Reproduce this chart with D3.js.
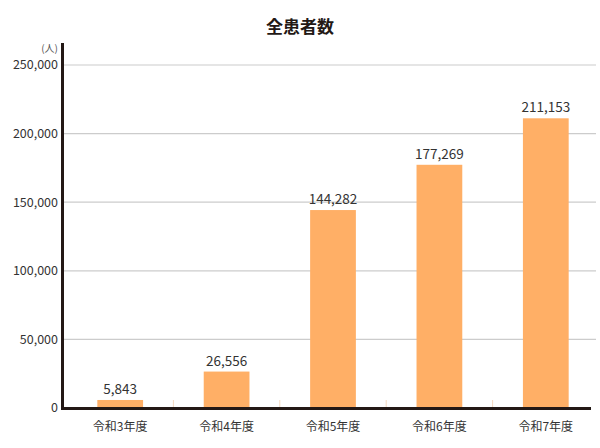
<!DOCTYPE html>
<html><head><meta charset="utf-8">
<script src="https://cdn.jsdelivr.net/npm/d3@7"></script>
<style>body{margin:0;background:#fff;}svg{display:block;font-family:"Noto Sans CJK JP","Noto Sans",sans-serif;}</style>
</head><body>
<script>
const categories = ["令和3年度","令和4年度","令和5年度","令和6年度","令和7年度"];
const patients = [5843, 26556, 144282, 177269, 211153];
const yTicks = [0, 50000, 100000, 150000, 200000, 250000];
const title = "全患者数";
const unit = "(人)";

const W = 600, H = 448;
const svg = d3.select("body").append("svg").attr("width", W).attr("height", H);

const x = d3.scaleBand().domain(categories).range([67, 599]).paddingInner(0.57).paddingOuter(0.285);
const y = d3.scaleLinear().domain([0, 250000]).range([408, 65]);
const fmt = d3.format(",");

// gridlines
svg.append("g").selectAll("line").data(yTicks.filter(d => d > 0)).join("line")
  .attr("x1", 64).attr("x2", 596)
  .attr("y1", d => y(d)).attr("y2", d => y(d))
  .attr("stroke", "#cccccc").attr("stroke-width", 1.2);

// y tick labels
svg.append("g").selectAll("text").data(yTicks).join("text")
  .attr("x", 58).attr("y", d => y(d)).attr("dy", "0.35em")
  .attr("text-anchor", "end").attr("font-size", 12.5).attr("fill", "#333")
  .text(d => fmt(d));

svg.append("text").attr("x", 58).attr("y", 52).attr("text-anchor", "end")
  .attr("font-size", 10).attr("fill", "#555").text(unit);

// category separators
const step = x.step();
svg.append("g").selectAll("line").data(categories.slice(1)).join("line")
  .attr("x1", d => x(d) - x.paddingInner() * step / 2).attr("x2", d => x(d) - x.paddingInner() * step / 2)
  .attr("y1", 400).attr("y2", 408)
  .attr("stroke", "#f5d9c0").attr("stroke-width", 1);

// bars
svg.append("g").selectAll("rect").data(patients).join("rect")
  .attr("x", (d, i) => x(categories[i]))
  .attr("width", x.bandwidth())
  .attr("y", d => y(d))
  .attr("height", d => y(0) - y(d))
  .attr("fill", "#ffaf66");

// value labels
svg.append("g").selectAll("text").data(patients).join("text")
  .attr("x", (d, i) => x(categories[i]) + x.bandwidth() / 2)
  .attr("y", d => y(d) - 6)
  .attr("text-anchor", "middle").attr("font-size", 13.5).attr("fill", "#333")
  .text(d => fmt(d));

// category labels
svg.append("g").selectAll("text").data(categories).join("text")
  .attr("x", d => x(d) + x.bandwidth() / 2)
  .attr("y", 431)
  .attr("text-anchor", "middle").attr("font-size", 12).attr("fill", "#333")
  .text(d => d);

// axes lines
svg.append("line").attr("x1", 62.5).attr("x2", 62.5).attr("y1", 43).attr("y2", 410)
  .attr("stroke", "#231815").attr("stroke-width", 3);
svg.append("line").attr("x1", 61).attr("x2", 591).attr("y1", 408.5).attr("y2", 408.5)
  .attr("stroke", "#231815").attr("stroke-width", 3);

// title
svg.append("text").attr("x", 300).attr("y", 33).attr("text-anchor", "middle")
  .attr("font-size", 17).attr("font-weight", "bold").attr("fill", "#231815").text(title);
</script>
</body></html>
